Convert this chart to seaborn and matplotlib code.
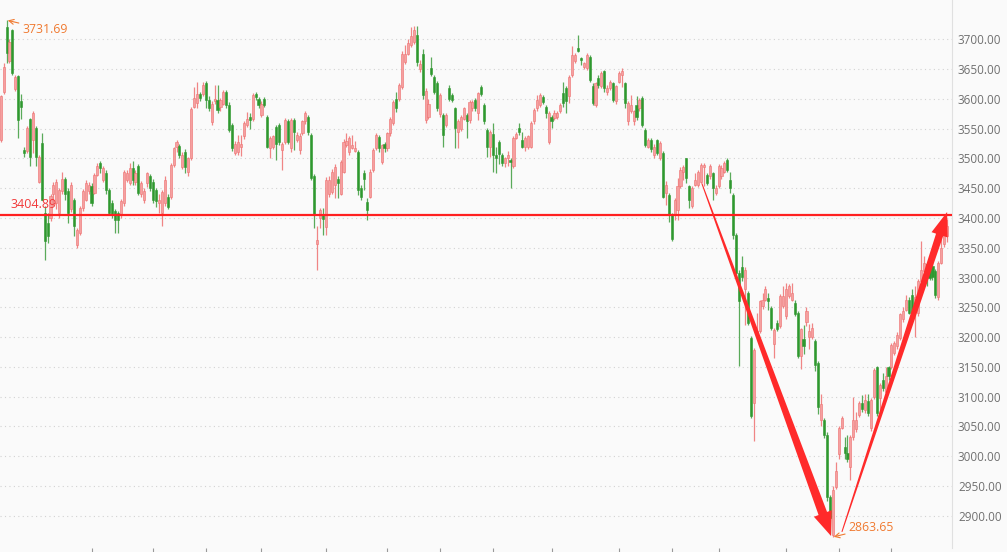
import numpy as np
import pandas as pd
import matplotlib
matplotlib.use("Agg")
import matplotlib.pyplot as plt
from matplotlib.patches import Polygon
import seaborn as sns

# daily OHLC (one candle per trading day)
opens = [
    3531, 3612, 3720, 3663, 3716, 3616, 3638, 3596, 3514, 3512,
    3566, 3531, 3551, 3461, 3526, 3408, 3392, 3400, 3440, 3425,
    3408, 3445, 3465, 3445, 3415, 3431, 3355, 3375, 3417, 3431,
    3445, 3453, 3442, 3473, 3492, 3464, 3475, 3447, 3425, 3411,
    3408, 3406, 3425, 3464, 3459, 3484, 3461, 3487, 3440, 3431,
    3459, 3470, 3461, 3447, 3425, 3408, 3425, 3436, 3436, 3489,
    3519, 3521, 3486, 3511, 3478, 3500, 3587, 3593, 3609, 3609,
    3626, 3598, 3561, 3596, 3598, 3587, 3592, 3612, 3590, 3556,
    3509, 3511, 3519, 3537, 3556, 3570, 3567, 3609, 3600, 3573,
    3600, 3570, 3517, 3520, 3553, 3556, 3514, 3528, 3562, 3517,
    3565, 3531, 3514, 3542, 3562, 3570, 3539, 3470, 3357, 3400,
    3405, 3385, 3441, 3444, 3455, 3466, 3441, 3478, 3523, 3510,
    3517, 3513, 3511, 3450, 3475, 3427, 3436, 3480, 3517, 3536,
    3494, 3525, 3517, 3542, 3559, 3600, 3600, 3620, 3662, 3676,
    3690, 3695, 3707, 3650, 3676, 3564, 3570, 3651, 3637, 3626,
    3575, 3573, 3556, 3618, 3606, 3584, 3545, 3550, 3567, 3573,
    3564, 3584, 3598, 3576, 3620, 3590, 3548, 3520, 3541, 3506,
    3528, 3506, 3492, 3500, 3497, 3487, 3535, 3551, 3531, 3520,
    3520, 3520, 3562, 3584, 3590, 3603, 3587, 3528, 3570, 3568,
    3570, 3579, 3610, 3618, 3604, 3640, 3663, 3685, 3669, 3654,
    3651, 3671, 3621, 3590, 3635, 3621, 3646, 3612, 3618, 3626,
    3596, 3629, 3640, 3626, 3562, 3579, 3562, 3590, 3584, 3601,
    3548, 3520, 3531, 3505, 3531, 3500, 3509, 3442, 3439, 3406,
    3406, 3414, 3453, 3478, 3500, 3453, 3420, 3456, 3456, 3461,
    3486, 3472, 3470, 3475, 3442, 3453, 3470, 3478, 3498, 3464,
    3439, 3372, 3308, 3318, 3280, 3274, 3199, 3090, 3205, 3210,
    3252, 3263, 3266, 3249, 3188, 3224, 3218, 3252, 3235, 3269,
    3263, 3258, 3240, 3168, 3196, 3225, 3200, 3200, 3193, 3156,
    3060, 3060, 3035, 2931, 2867, 2948, 3003, 3048, 3016, 3005,
    2982, 3032, 3045, 3070, 3090, 3078, 3092, 3047, 3100, 3150,
    3098, 3128, 3107, 3150, 3150, 3174, 3185, 3198, 3230, 3246,
    3263, 3270, 3255, 3240, 3295, 3311, 3322, 3320, 3320, 3311,
    3268, 3325, 3356, 3370,
]
highs = [
    3607, 3660, 3731.69, 3700, 3717, 3640, 3640, 3609, 3520, 3554,
    3568, 3579, 3554, 3506, 3542, 3420, 3408, 3440, 3460, 3465,
    3450, 3478, 3468, 3450, 3461, 3434, 3384, 3420, 3448, 3463,
    3460, 3458, 3476, 3492, 3496, 3488, 3480, 3450, 3430, 3415,
    3412, 3432, 3481, 3480, 3492, 3495, 3480, 3490, 3462, 3450,
    3478, 3474, 3465, 3450, 3440, 3447, 3470, 3440, 3492, 3520,
    3531, 3525, 3510, 3515, 3503, 3586, 3620, 3628, 3612, 3629,
    3630, 3605, 3596, 3623, 3623, 3602, 3615, 3615, 3594, 3560,
    3530, 3539, 3539, 3562, 3578, 3576, 3610, 3612, 3603, 3596,
    3603, 3573, 3537, 3540, 3556, 3560, 3528, 3568, 3567, 3568,
    3568, 3545, 3542, 3565, 3580, 3573, 3542, 3474, 3386, 3417,
    3416, 3468, 3470, 3482, 3490, 3470, 3497, 3532, 3542, 3537,
    3539, 3530, 3514, 3455, 3480, 3433, 3482, 3517, 3542, 3539,
    3525, 3528, 3545, 3570, 3598, 3612, 3626, 3680, 3690, 3700,
    3721, 3722, 3722, 3665, 3684, 3618, 3600, 3670, 3640, 3630,
    3610, 3576, 3577, 3623, 3610, 3587, 3567, 3573, 3587, 3576,
    3598, 3598, 3602, 3612, 3623, 3593, 3551, 3548, 3559, 3520,
    3531, 3509, 3503, 3512, 3500, 3537, 3545, 3559, 3545, 3537,
    3540, 3562, 3584, 3607, 3610, 3607, 3590, 3579, 3573, 3581,
    3579, 3593, 3629, 3621, 3640, 3688, 3677, 3707, 3671, 3662,
    3677, 3674, 3626, 3629, 3640, 3646, 3649, 3624, 3632, 3629,
    3624, 3646, 3652, 3629, 3596, 3607, 3582, 3604, 3601, 3604,
    3551, 3534, 3535, 3525, 3533, 3530, 3512, 3462, 3442, 3409,
    3434, 3467, 3486, 3489, 3500, 3456, 3453, 3475, 3481, 3492,
    3492, 3475, 3490, 3478, 3456, 3490, 3489, 3495, 3500, 3478,
    3442, 3375, 3312, 3336, 3318, 3278, 3202, 3182, 3240, 3263,
    3274, 3285, 3274, 3252, 3215, 3228, 3272, 3285, 3291, 3289,
    3291, 3263, 3244, 3216, 3221, 3250, 3222, 3224, 3196, 3160,
    3105, 3064, 3040, 2935, 2950, 2990, 3051, 3068, 3032, 3035,
    3035, 3100, 3075, 3093, 3103, 3105, 3105, 3098, 3148, 3152,
    3123, 3140, 3150, 3152, 3190, 3193, 3208, 3240, 3250, 3270,
    3268, 3280, 3286, 3298, 3361, 3336, 3324, 3322, 3325, 3314,
    3328, 3364, 3386, 3398,
]
lows = [
    3528, 3609, 3660, 3660, 3640, 3613, 3534, 3567, 3503, 3509,
    3487, 3509, 3487, 3458, 3431, 3330, 3358, 3395, 3420, 3415,
    3400, 3440, 3430, 3392, 3410, 3369, 3350, 3372, 3412, 3428,
    3440, 3420, 3440, 3470, 3475, 3460, 3440, 3405, 3400, 3375,
    3375, 3400, 3420, 3460, 3455, 3455, 3455, 3438, 3435, 3425,
    3452, 3445, 3425, 3418, 3408, 3386, 3420, 3415, 3432, 3485,
    3510, 3500, 3483, 3475, 3470, 3497, 3584, 3585, 3596, 3605,
    3585, 3580, 3556, 3592, 3576, 3580, 3590, 3585, 3545, 3513,
    3505, 3506, 3504, 3533, 3553, 3550, 3563, 3598, 3585, 3570,
    3586, 3517, 3500, 3515, 3497, 3522, 3480, 3525, 3525, 3510,
    3514, 3528, 3508, 3539, 3558, 3540, 3464, 3383, 3313, 3384,
    3372, 3372, 3436, 3440, 3433, 3433, 3438, 3475, 3520, 3505,
    3515, 3510, 3438, 3430, 3447, 3396, 3433, 3477, 3514, 3511,
    3490, 3511, 3513, 3538, 3556, 3578, 3597, 3617, 3659, 3673,
    3687, 3692, 3656, 3645, 3600, 3560, 3567, 3638, 3608, 3580,
    3570, 3520, 3552, 3596, 3594, 3517, 3517, 3546, 3564, 3534,
    3560, 3580, 3580, 3565, 3604, 3558, 3503, 3503, 3478, 3475,
    3490, 3488, 3485, 3487, 3450, 3484, 3532, 3540, 3517, 3512,
    3516, 3517, 3558, 3580, 3587, 3592, 3568, 3525, 3551, 3565,
    3566, 3576, 3587, 3576, 3593, 3637, 3660, 3679, 3657, 3650,
    3648, 3628, 3590, 3587, 3618, 3618, 3612, 3606, 3615, 3595,
    3592, 3626, 3620, 3585, 3556, 3576, 3556, 3565, 3580, 3553,
    3520, 3517, 3510, 3500, 3505, 3497, 3434, 3421, 3394, 3361,
    3397, 3397, 3450, 3464, 3459, 3417, 3417, 3453, 3452, 3458,
    3453, 3456, 3466, 3430, 3439, 3450, 3465, 3475, 3478, 3442,
    3364, 3301, 3151, 3295, 3220, 3220, 3065, 3026, 3200, 3207,
    3248, 3260, 3246, 3212, 3165, 3210, 3215, 3249, 3230, 3266,
    3260, 3235, 3165, 3146, 3171, 3218, 3180, 3197, 3143, 3071,
    3050, 3030, 2925, 2869, 2863.65, 2945, 2995, 3045, 2995, 2990,
    2960, 3028, 3040, 3066, 3075, 3073, 3068, 3043, 3096, 3068,
    3072, 3110, 3103, 3128, 3146, 3170, 3180, 3195, 3226, 3243,
    3238, 3228, 3200, 3235, 3290, 3308, 3285, 3296, 3296, 3265,
    3263, 3322, 3352, 3360,
]
closes = [
    3604, 3654, 3677, 3696, 3643, 3637, 3565, 3586, 3509, 3551,
    3503, 3576, 3503, 3503, 3431, 3361, 3369, 3437, 3456, 3460,
    3447, 3465, 3440, 3408, 3455, 3386, 3380, 3417, 3445, 3459,
    3455, 3425, 3473, 3487, 3484, 3484, 3447, 3408, 3406, 3397,
    3397, 3428, 3478, 3475, 3484, 3464, 3475, 3442, 3459, 3445,
    3475, 3450, 3431, 3428, 3431, 3443, 3464, 3419, 3489, 3517,
    3528, 3506, 3506, 3486, 3500, 3583, 3601, 3609, 3601, 3623,
    3598, 3584, 3592, 3600, 3582, 3598, 3612, 3590, 3548, 3517,
    3525, 3528, 3525, 3559, 3567, 3565, 3606, 3603, 3589, 3592,
    3590, 3520, 3534, 3537, 3525, 3528, 3525, 3565, 3528, 3565,
    3545, 3539, 3537, 3562, 3576, 3545, 3467, 3405, 3363, 3414,
    3398, 3464, 3464, 3478, 3486, 3458, 3494, 3528, 3530, 3534,
    3522, 3517, 3447, 3436, 3466, 3413, 3478, 3514, 3539, 3517,
    3522, 3517, 3542, 3567, 3595, 3584, 3623, 3676, 3676, 3693,
    3705, 3715, 3662, 3659, 3606, 3614, 3592, 3642, 3612, 3584,
    3606, 3539, 3573, 3600, 3598, 3551, 3562, 3570, 3584, 3562,
    3595, 3595, 3584, 3610, 3608, 3562, 3520, 3545, 3506, 3500,
    3508, 3492, 3500, 3506, 3494, 3534, 3541, 3545, 3520, 3534,
    3537, 3559, 3581, 3598, 3607, 3595, 3576, 3576, 3562, 3576,
    3576, 3590, 3593, 3596, 3637, 3674, 3674, 3680, 3665, 3660,
    3674, 3632, 3593, 3626, 3624, 3643, 3618, 3618, 3629, 3598,
    3621, 3643, 3646, 3593, 3593, 3590, 3579, 3570, 3598, 3556,
    3523, 3531, 3515, 3520, 3509, 3526, 3436, 3456, 3405, 3364,
    3431, 3453, 3481, 3486, 3467, 3431, 3450, 3464, 3478, 3489,
    3489, 3459, 3487, 3450, 3450, 3487, 3484, 3492, 3480, 3450,
    3372, 3308, 3260, 3301, 3313, 3224, 3068, 3179, 3210, 3260,
    3263, 3280, 3260, 3215, 3212, 3213, 3269, 3269, 3280, 3286,
    3274, 3238, 3168, 3213, 3185, 3243, 3210, 3215, 3153, 3083,
    3088, 3035, 2931, 2897, 2943, 2976, 3048, 3065, 3005, 2995,
    3032, 3060, 3060, 3090, 3080, 3095, 3072, 3094, 3145, 3072,
    3120, 3115, 3135, 3135, 3187, 3190, 3204, 3238, 3243, 3263,
    3241, 3229, 3268, 3295, 3313, 3324, 3305, 3300, 3301, 3270,
    3325, 3350, 3375, 3386,
]

# month boundaries (candle index) and y ticks
month_ticks = [31, 52, 70, 89, 111, 132, 150, 168, 188, 211, 229, 245, 268, 286, 304]
price_ticks = list(range(2900, 3701, 50))
level = 3404.89
high_pt = (2, 3731.69)
low_pt = (284, 2863.65)

df = pd.DataFrame({"open": opens, "high": highs, "low": lows, "close": closes})
df["idx"] = np.arange(len(df))
df["up"] = df["close"] >= df["open"]

sns.set_theme(style="white")
plt.rcParams["font.family"] = ["Open Sans", "DejaVu Sans"]

bg = "#fafafa"
fig = plt.figure(figsize=(10.07, 5.52), dpi=100, facecolor=bg)
ax = fig.add_axes([0, 4 / 552, 952 / 1007, 548 / 552], facecolor=bg)
ax.set_xlim(-0.24, 324.67)
ax.set_ylim(2845.9, 3766.0)

# candles
up_face, up_edge = "#f5a0a0", "#ee7070"
dn_face, dn_edge = "#2f982f", "#2f982f"
wick_cols = np.where(df["up"], "#f08585", "#5aaa5a")
ax.vlines(df["idx"], df["low"], df["high"], colors=wick_cols, lw=0.9, zorder=2)
body_lo = df[["open", "close"]].min(axis=1)
body_h = (df["close"] - df["open"]).abs().clip(lower=1.6)
ax.bar(df["idx"], body_h, bottom=body_lo, width=0.72,
       color=np.where(df["up"], up_face, dn_face),
       edgecolor=np.where(df["up"], up_edge, dn_edge), linewidth=0.4, zorder=3)

# support / resistance level
ax.axhline(level, color="#ff2020", lw=1.6, zorder=4)
ax.text(3.2, level + 6, f"{level:.2f}", color="#f23a3a", fontsize=9, va="bottom", ha="left", zorder=5)

orange = "#f07a30"
ax.annotate(f"{high_pt[1]:.2f}", xy=(high_pt[0] + 0.4, high_pt[1]), xytext=(7.3, 3717),
            color=orange, fontsize=8.8, va="center", ha="left",
            arrowprops=dict(arrowstyle="->", color=orange, lw=0.8, shrinkA=0, shrinkB=0))
ax.annotate(f"{low_pt[1]:.2f}", xy=(low_pt[0] + 0.3, low_pt[1] + 1), xytext=(289.3, 2880),
            color=orange, fontsize=8.8, va="center", ha="left",
            arrowprops=dict(arrowstyle="->", color=orange, lw=0.8, shrinkA=0, shrinkB=0))


def tapered_arrow(ax, start, end, w0, w1, head_w, head_len, color):
    # widths in pixels, endpoints in data coords
    p0 = ax.transData.transform(start)
    p1 = ax.transData.transform(end)
    d = p1 - p0
    u = d / np.hypot(*d)
    n = np.array([-u[1], u[0]])
    base = p1 - u * head_len
    pts = [p0 + n * w0 / 2, base + n * w1 / 2, base + n * head_w / 2, p1,
           base - n * head_w / 2, base - n * w1 / 2, p0 - n * w0 / 2]
    ax.add_patch(Polygon(ax.transData.inverted().transform(pts), closed=True,
                         facecolor=color, edgecolor="none", zorder=6))


tapered_arrow(ax, (239.3, 3458), (283.4, 2866), 1.0, 9, 19, 24, "#ff2a2a")
tapered_arrow(ax, (287.1, 2873), (323.0, 3410), 1.0, 7.5, 17, 24, "#ff2a2a")

# axes styling
ax.grid(axis="y", ls=(0, (1, 3)), color="#d2d2d2", lw=0.8)
ax.grid(axis="x", visible=False)
ax.set_axisbelow(True)
ax.yaxis.tick_right()
ax.set_yticks(price_ticks)
ax.set_yticklabels([f"{p:.2f}" for p in price_ticks])
ax.tick_params(axis="y", length=0, pad=4.3, labelcolor="#707070", labelsize=8.5)
ax.set_xticks(month_ticks)
ax.set_xticklabels([])
ax.tick_params(axis="x", bottom=True, length=3, width=0.8, color="#9a9a9a", direction="out")
for side in ["top", "left", "bottom"]:
    ax.spines[side].set_visible(False)
ax.spines["right"].set_color("#e0e0e0")
ax.spines["right"].set_linewidth(0.8)

fig.savefig("out.png", dpi=100, facecolor=bg)
plt.close("all")
